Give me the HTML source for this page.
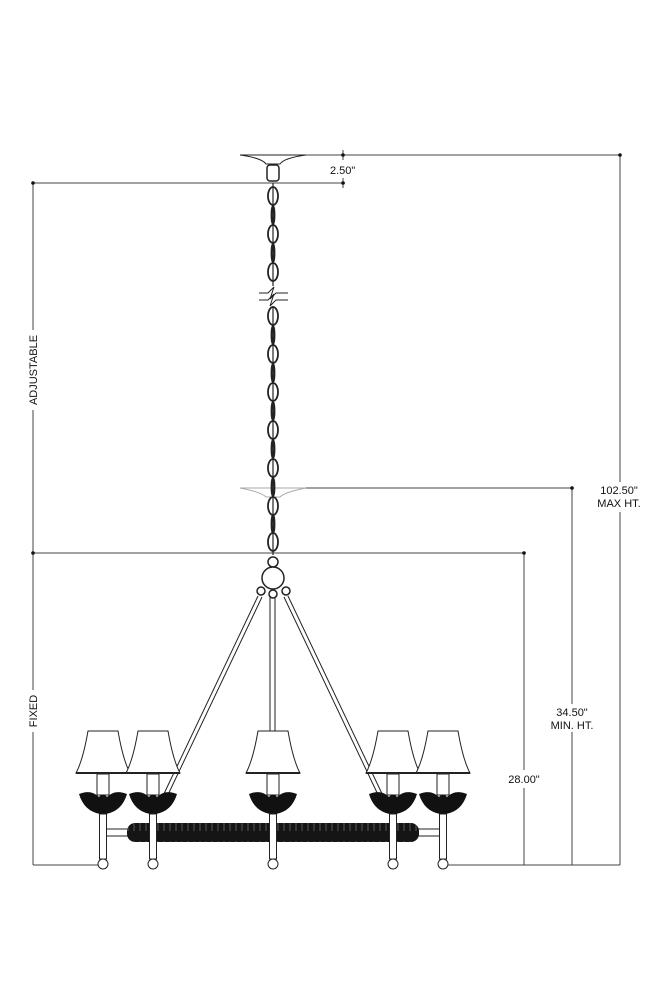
<!DOCTYPE html>
<html><head><meta charset="utf-8"><style>
html,body{margin:0;padding:0;background:#fff}
svg{display:block}
text{font-family:"Liberation Sans",Arial,sans-serif;font-size:11px;fill:#111}
</style></head><body>
<svg width="667" height="1000" viewBox="0 0 667 1000" xmlns="http://www.w3.org/2000/svg">
<defs>
<g id="arm">
  <path d="M-15 731 L15 731 Q20 760 27 773 L-27 773 Q-20 760 -15 731 Z" fill="#fff" stroke="#222" stroke-width="1"/>
  <line x1="-27" y1="773" x2="27" y2="773" stroke="#222" stroke-width="2"/>
  <rect x="-6" y="774" width="12" height="21" fill="#fff" stroke="#222"/>
  <path d="M-24 794 Q-12 789 -4 797 Q0 792 4 797 Q12 789 24 794 Q19 811 3 814 L-3 814 Q-19 811 -24 794 Z" fill="#111"/>
  <rect x="-3.5" y="814" width="7" height="45" fill="#fff" stroke="#222"/>
  <circle cx="0" cy="864" r="5" fill="#fff" stroke="#222"/>
</g>
<pattern id="tex" width="6" height="19" patternUnits="userSpaceOnUse">
  <rect width="6" height="19" fill="#151515"/>
  <line x1="2" y1="5" x2="2" y2="14" stroke="#666" stroke-width="0.8"/>
</pattern>
</defs>
<g stroke="#444" stroke-width="1" fill="none">
  <line x1="306" y1="155" x2="620" y2="155"/>
  <line x1="33" y1="183" x2="345" y2="183"/>
  <line x1="343" y1="150" x2="343" y2="160"/>
  <line x1="343" y1="178" x2="343" y2="188"/>
  <line x1="620" y1="155" x2="620" y2="482"/>
  <line x1="620" y1="512" x2="620" y2="865"/>
  <line x1="300" y1="488" x2="572" y2="488"/>
  <line x1="572" y1="488" x2="572" y2="704"/>
  <line x1="572" y1="732" x2="572" y2="865"/>
  <line x1="33" y1="553" x2="524" y2="553"/>
  <line x1="524" y1="553" x2="524" y2="770"/>
  <line x1="524" y1="788" x2="524" y2="865"/>
  <line x1="33" y1="183" x2="33" y2="330"/>
  <line x1="33" y1="410" x2="33" y2="690"/>
  <line x1="33" y1="732" x2="33" y2="865"/>
  <line x1="33" y1="865" x2="105" y2="865"/>
  <line x1="445" y1="865" x2="620" y2="865"/>
</g>
<g fill="#111">
  <circle cx="343" cy="155" r="1.8"/><circle cx="343" cy="183" r="1.8"/>
  <circle cx="33" cy="183" r="1.8"/><circle cx="33" cy="553" r="1.8"/>
  <circle cx="620" cy="155" r="1.8"/><circle cx="572" cy="488" r="1.8"/><circle cx="524" cy="553" r="1.8"/>
</g>
<text x="330" y="174">2.50"</text>
<text x="619" y="494" text-anchor="middle">102.50"</text>
<text x="619" y="507" text-anchor="middle">MAX HT.</text>
<text x="572" y="716" text-anchor="middle">34.50"</text>
<text x="572" y="729" text-anchor="middle">MIN. HT.</text>
<text x="524" y="783" text-anchor="middle">28.00"</text>
<text transform="translate(37,370) rotate(-90)" text-anchor="middle">ADJUSTABLE</text>
<text transform="translate(37,711) rotate(-90)" text-anchor="middle">FIXED</text>
<path d="M240 155 L306 155 Q284 158 280 164 L266 164 Q262 158 240 155 Z" fill="#fff" stroke="#222"/>
<rect x="267" y="165" width="12" height="16" rx="3" fill="#fff" stroke="#222" stroke-width="1.5"/>
<path d="M240 488 L306 488 Q285 492 280 497 L266 497 Q261 492 240 488 Z" fill="none" stroke="#aaa"/>
<g fill="none" stroke="#222" stroke-width="1.8">
  <line x1="273" y1="183" x2="273" y2="555" stroke-width="1.2"/>
  <ellipse cx="273" cy="196" rx="5" ry="9"/>
  <ellipse cx="273" cy="234" rx="5" ry="9"/>
  <ellipse cx="273" cy="272" rx="5" ry="9"/>
  <ellipse cx="273" cy="316" rx="5" ry="9"/>
  <ellipse cx="273" cy="354" rx="5" ry="9"/>
  <ellipse cx="273" cy="392" rx="5" ry="9"/>
  <ellipse cx="273" cy="430" rx="5" ry="9"/>
  <ellipse cx="273" cy="468" rx="5" ry="9"/>
  <ellipse cx="273" cy="506" rx="5" ry="9"/>
  <ellipse cx="273" cy="542" rx="5" ry="9"/>
  <ellipse cx="273" cy="215" rx="1.5" ry="9"/>
  <ellipse cx="273" cy="253" rx="1.5" ry="9"/>
  <ellipse cx="273" cy="335" rx="1.5" ry="9"/>
  <ellipse cx="273" cy="373" rx="1.5" ry="9"/>
  <ellipse cx="273" cy="411" rx="1.5" ry="9"/>
  <ellipse cx="273" cy="449" rx="1.5" ry="9"/>
  <ellipse cx="273" cy="487" rx="1.5" ry="9"/>
  <ellipse cx="273" cy="524" rx="1.5" ry="9"/>
</g>
<rect x="258" y="286" width="30" height="20" fill="#fff"/>
<g fill="none" stroke="#222" stroke-width="1">
  <path d="M259 293 L268 293 L274 287 L270 299 L276 293 L288 293"/>
  <path d="M259 300 L268 300 L274 294 L270 306 L276 300 L288 300"/>
</g>
<g fill="#fff" stroke="#222" stroke-width="1.5">
  <circle cx="273" cy="562" r="5"/>
  <circle cx="273" cy="578" r="11"/>
  <circle cx="261" cy="591" r="4"/>
  <circle cx="286" cy="591" r="4"/>
  <circle cx="273" cy="594" r="4"/>
</g>
<g stroke="#222" stroke-width="1" fill="none">
  <line x1="270" y1="597" x2="270" y2="731"/><line x1="275" y1="597" x2="275" y2="731"/>
  <line x1="258" y1="596" x2="161" y2="800"/><line x1="262" y1="597" x2="165" y2="801"/>
  <line x1="288" y1="596" x2="385" y2="800"/><line x1="284" y1="597" x2="381" y2="801"/>
</g>
<rect x="100" y="829" width="345" height="7" fill="#fff" stroke="#222"/>
<rect x="127" y="823" width="292" height="19" rx="8" fill="url(#tex)"/>
<use href="#arm" transform="translate(103,0)"/>
<use href="#arm" transform="translate(153,0)"/>
<use href="#arm" transform="translate(273,0)"/>
<use href="#arm" transform="translate(393,0)"/>
<use href="#arm" transform="translate(443,0)"/>
</svg>
</body></html>
